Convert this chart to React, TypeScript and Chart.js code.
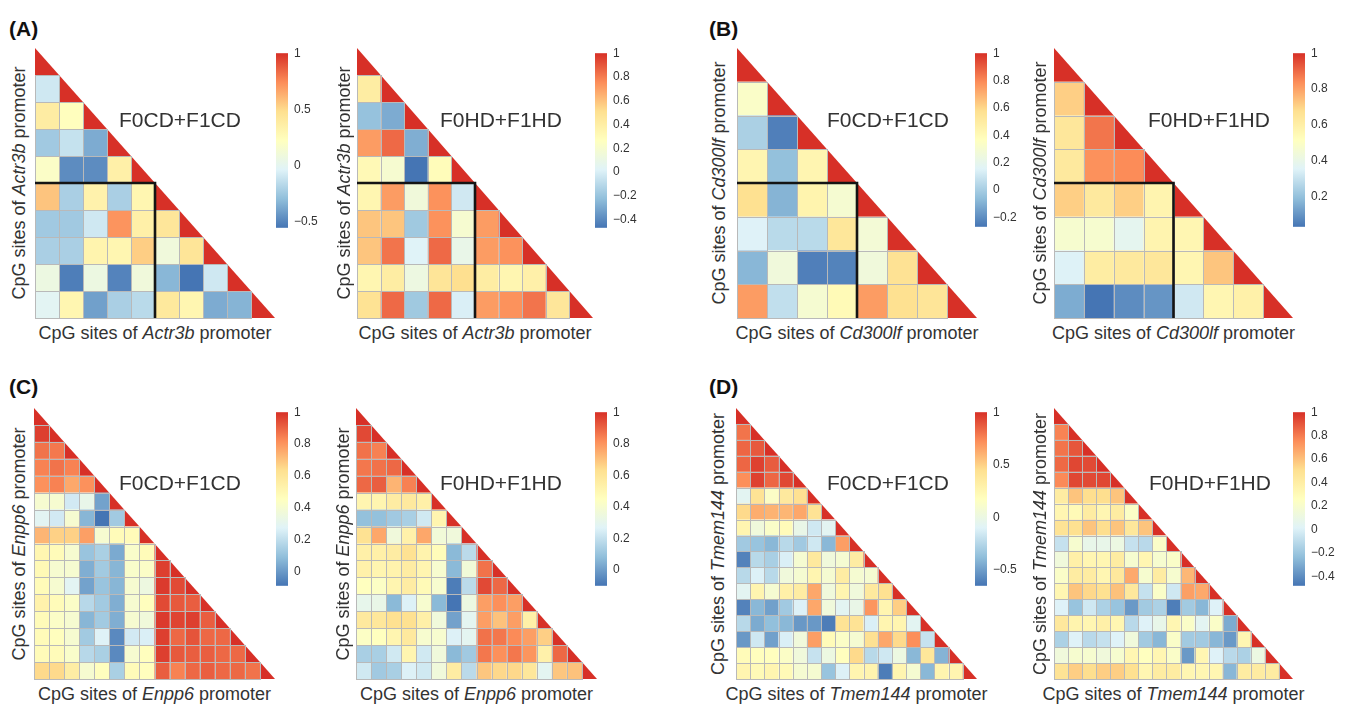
import React, { useEffect, useRef } from "react";
import { Chart, registerables } from "chart.js";
Chart.register(...registerables);

// RdYlBu (7) reversed – pheatmap default palette
const PALETTE = ["#4575B4", "#91BFDB", "#E0F3F8", "#FFFFBF", "#FEE090", "#FC8D59", "#D73027"];

// Lower-triangle correlation values, row k holds columns 0..k-1 (diagonal = 1)
const actr3bCD = [
  [-0.09],
  [0.38, 0.23],
  [-0.24, -0.12, -0.36],
  [0.19, -0.47, -0.47, 0.35],
  [0.57, -0.21, 0.33, -0.21, 0.30],
  [-0.24, -0.24, -0.09, 0.72, 0.35, 0.43],
  [-0.21, -0.21, 0.32, 0.30, 0.54, 0.10, 0.44],
  [0.07, -0.52, 0.07, -0.50, 0.10, -0.32, -0.55, -0.09],
  [-0.01, 0.30, -0.40, -0.21, -0.16, 0.41, 0.30, -0.36, -0.33],
];
const actr3bHD = [
  [0.41],
  [-0.21, -0.29],
  [0.71, 0.85, -0.28],
  [0.31, 0.19, -0.47, 0.29],
  [0.34, 0.71, 0.15, 0.74, -0.03],
  [0.59, 0.59, -0.18, 0.74, 0.19, 0.71],
  [0.59, 0.82, 0.02, 0.85, 0.09, 0.71, 0.74],
  [0.34, 0.41, 0.12, 0.47, 0.51, 0.41, 0.34, 0.38],
  [0.49, 0.85, -0.18, 0.85, 0.0, 0.71, 0.74, 0.82, 0.46],
];
const cd300lfCD = [
  [0.33],
  [0.01, -0.24],
  [0.43, -0.05, 0.43],
  [0.57, -0.09, 0.44, 0.30],
  [0.15, 0.05, 0.05, 0.53, 0.28],
  [-0.08, 0.26, -0.24, -0.23, 0.26, 0.56],
  [0.75, 0.07, 0.30, 0.40, 0.75, 0.57, 0.54],
];
const cd300lfHD = [
  [0.71],
  [0.64, 0.88],
  [0.63, 0.83, 0.84],
  [0.71, 0.63, 0.71, 0.57],
  [0.47, 0.47, 0.38, 0.57, 0.56],
  [0.35, 0.61, 0.63, 0.64, 0.56, 0.73],
  [0.15, 0.03, 0.08, 0.10, 0.32, 0.56, 0.59],
];
const enpp6CD = [
  [0.97],
  [0.87, 0.86],
  [0.84, 0.87, 0.84],
  [0.81, 0.84, 0.76, 0.81],
  [0.40, 0.40, 0.24, 0.32, 0.02],
  [0.29, 0.24, 0.40, 0.07, -0.09, 0.13],
  [0.73, 0.67, 0.67, 0.78, 0.40, 0.48, 0.48],
  [0.51, 0.48, 0.40, 0.11, 0.15, 0.04, 0.42, 0.48],
  [0.49, 0.40, 0.40, 0.05, 0.13, 0.07, 0.42, 0.43, 0.97],
  [0.48, 0.40, 0.29, 0.02, 0.11, 0.07, 0.40, 0.35, 0.98, 0.95],
  [0.53, 0.48, 0.43, 0.18, 0.13, 0.05, 0.40, 0.46, 0.95, 0.92, 0.91],
  [0.48, 0.43, 0.40, 0.07, 0.13, 0.05, 0.40, 0.37, 0.98, 0.96, 0.97, 0.91],
  [0.48, 0.46, 0.40, 0.13, 0.27, -0.04, 0.24, 0.26, 0.97, 0.89, 0.93, 0.89, 0.89],
  [0.48, 0.48, 0.42, 0.18, 0.15, -0.04, 0.40, 0.46, 0.97, 0.92, 0.91, 0.91, 0.89, 0.89],
  [0.65, 0.65, 0.56, 0.40, 0.46, 0.15, 0.48, 0.46, 0.91, 0.84, 0.89, 0.91, 0.89, 0.89, 0.87],
];
const enpp6HD = [
  [0.95],
  [0.87, 0.84],
  [0.86, 0.87, 0.89],
  [0.89, 0.91, 0.73, 0.84],
  [0.51, 0.51, 0.56, 0.58, 0.54],
  [0.09, 0.09, 0.12, 0.14, 0.23, 0.51],
  [0.62, 0.76, 0.36, 0.53, 0.76, 0.37, 0.36],
  [0.54, 0.54, 0.56, 0.62, 0.52, 0.47, 0.07, 0.18],
  [0.53, 0.51, 0.52, 0.56, 0.51, 0.40, 0.07, 0.37, 0.87],
  [0.45, 0.43, 0.51, 0.56, 0.48, 0.40, -0.08, 0.18, 0.95, 0.89],
  [0.31, 0.32, 0.07, 0.26, 0.40, 0.07, -0.10, 0.34, 0.78, 0.81, 0.78],
  [0.58, 0.59, 0.63, 0.63, 0.54, 0.36, 0.01, 0.29, 0.78, 0.70, 0.78, 0.54],
  [0.43, 0.45, 0.51, 0.58, 0.40, 0.40, 0.26, 0.29, 0.87, 0.86, 0.82, 0.78, 0.67],
  [0.14, 0.14, 0.23, 0.51, 0.23, 0.36, 0.07, 0.12, 0.86, 0.81, 0.86, 0.80, 0.53, 0.89],
  [0.23, 0.12, 0.14, 0.26, 0.23, 0.36, 0.56, 0.18, 0.69, 0.65, 0.65, 0.59, 0.29, 0.69, 0.70],
];
const tmem144CD = [
  [0.80],
  [0.84, 0.88],
  [0.84, 0.95, 0.87],
  [0.72, 0.95, 0.84, 0.93],
  [-0.07, 0.42, 0.14, 0.37, 0.44],
  [0.47, 0.62, 0.60, 0.59, 0.64, 0.42],
  [0.26, 0.04, 0.13, 0.21, -0.02, -0.16, -0.07],
  [-0.32, -0.35, -0.40, -0.24, -0.32, -0.16, -0.40, 0.67],
  [-0.60, -0.24, -0.29, -0.12, 0.09, 0.37, 0.04, 0.09, 0.34],
  [-0.24, -0.11, -0.24, 0.04, 0.09, 0.26, 0.09, 0.34, 0.09, 0.09],
  [-0.07, 0.26, 0.09, 0.31, 0.34, 0.64, 0.04, 0.26, 0.04, 0.37, 0.44],
  [-0.60, -0.40, -0.49, -0.32, -0.11, 0.64, 0.04, -0.07, -0.02, 0.70, 0.26, 0.51],
  [-0.24, -0.45, -0.37, -0.40, -0.52, -0.52, -0.62, 0.42, 0.42, -0.12, 0.26, 0.26, -0.07],
  [-0.52, -0.16, -0.49, -0.12, 0.04, 0.67, 0.21, 0.14, 0.09, 0.44, 0.64, 0.47, 0.72, -0.19],
  [0.21, 0.18, 0.18, 0.14, 0.04, -0.19, 0.01, 0.18, 0.47, -0.24, -0.16, 0.01, -0.40, 0.39, -0.42],
  [0.26, 0.22, 0.26, 0.22, 0.09, 0.09, -0.35, -0.11, 0.26, 0.27, -0.62, 0.26, 0.09, -0.40, 0.27, 0.26],
];
const tmem144HD = [
  [0.78],
  [0.82, 0.90],
  [0.85, 0.94, 0.93],
  [0.76, 0.94, 0.93, 0.94],
  [0.41, 0.59, 0.51, 0.51, 0.59],
  [0.33, 0.30, 0.41, 0.33, 0.41, 0.23],
  [0.48, 0.50, 0.59, 0.51, 0.59, 0.45, 0.59],
  [-0.07, 0.19, 0.08, 0.08, 0.11, -0.07, -0.11, 0.22],
  [0.14, 0.38, 0.33, 0.33, 0.41, 0.19, 0.33, 0.19, 0.22],
  [0.22, 0.41, 0.41, 0.33, 0.44, 0.67, 0.19, 0.41, 0.19, 0.63],
  [0.33, 0.59, 0.53, 0.50, 0.60, 0.44, -0.07, 0.22, -0.04, 0.70, 0.67],
  [0.01, -0.21, -0.04, -0.15, -0.21, -0.36, -0.18, -0.15, -0.45, -0.18, -0.26, 0.01],
  [0.44, 0.35, 0.33, 0.38, 0.33, -0.11, 0.01, 0.08, 0.33, 0.22, 0.04, 0.22, -0.30],
  [-0.15, 0.01, -0.11, -0.07, 0.01, 0.14, -0.18, -0.26, 0.22, -0.18, -0.18, -0.26, -0.36, 0.33],
  [0.14, 0.19, 0.19, 0.14, 0.19, 0.33, 0.26, 0.33, 0.22, -0.36, 0.33, 0.01, -0.11, -0.15, 0.11],
  [0.48, 0.56, 0.51, 0.56, 0.56, 0.50, 0.33, 0.41, 0.41, 0.33, 0.33, 0.33, -0.26, 0.41, 0.41, 0.41],
];

// Colour-scale ranges (min of each colour bar, max is 1) and tick steps
const scaleMins = { A1: -0.55, A2: -0.47, B1: -0.27, B2: 0.03, C1: -0.09, C2: -0.1, D1: -0.65, D2: -0.48 };
const tickSteps = { A1: 0.5, A2: 0.2, B1: 0.2, B2: 0.2, C1: 0.2, C2: 0.2, D1: 0.5, D2: 0.2 };
const groupLabels = ["F0CD+F1CD", "F0HD+F1HD"];
const genes = ["Actr3b", "Cd300lf", "Enpp6", "Tmem144"];
const panelLetters = ["(A)", "(B)", "(C)", "(D)"];

const FONT = "'Liberation Sans', Arial, Helvetica, sans-serif";
const TEXT = "#333333";
const PAD = 3;

type Panel = {
  key: string; data: number[][]; gene: string; group: string; box: number;
  left: number; top: number; w: number; h: number;
  cbLeft: number; cbTop: number; cbH: number; ylabX: number; tagX: number; tagY: number;
};

const PANELS: Panel[] = [
  { key: "A1", data: actr3bCD, gene: genes[0], group: groupLabels[0], box: 5, left: 35, top: 48, w: 240, h: 270, cbLeft: 276, cbTop: 50, cbH: 181, ylabX: 19, tagX: 119, tagY: 119 },
  { key: "A2", data: actr3bHD, gene: genes[0], group: groupLabels[1], box: 5, left: 357, top: 48, w: 236, h: 270, cbLeft: 595, cbTop: 50, cbH: 181, ylabX: 344, tagX: 440, tagY: 119 },
  { key: "B1", data: cd300lfCD, gene: genes[1], group: groupLabels[0], box: 4, left: 737, top: 48, w: 240, h: 270, cbLeft: 975, cbTop: 50, cbH: 180, ylabX: 719, tagX: 827, tagY: 119 },
  { key: "B2", data: cd300lfHD, gene: genes[1], group: groupLabels[1], box: 4, left: 1054, top: 48, w: 239, h: 270, cbLeft: 1293, cbTop: 50, cbH: 180, ylabX: 1040, tagX: 1148, tagY: 119 },
  { key: "C1", data: enpp6CD, gene: genes[2], group: groupLabels[0], box: 0, left: 34, top: 408, w: 241, h: 271, cbLeft: 276, cbTop: 409, cbH: 180, ylabX: 19, tagX: 119, tagY: 482 },
  { key: "C2", data: enpp6HD, gene: genes[2], group: groupLabels[1], box: 0, left: 356, top: 408, w: 241, h: 271, cbLeft: 595, cbTop: 409, cbH: 180, ylabX: 343, tagX: 440, tagY: 482 },
  { key: "D1", data: tmem144CD, gene: genes[3], group: groupLabels[0], box: 0, left: 736, top: 408, w: 241, h: 271, cbLeft: 975, cbTop: 409, cbH: 180, ylabX: 718, tagX: 827, tagY: 482 },
  { key: "D2", data: tmem144HD, gene: genes[3], group: groupLabels[1], box: 0, left: 1054, top: 408, w: 239, h: 271, cbLeft: 1293, cbTop: 409, cbH: 180, ylabX: 1040, tagX: 1149, tagY: 482 },
];

function hexToRgb(h: string) {
  const n = parseInt(h.slice(1), 16);
  return [(n >> 16) & 255, (n >> 8) & 255, n & 255];
}
function colorAt(t: number) {
  const tt = Math.max(0, Math.min(1, t));
  const seg = tt * (PALETTE.length - 1);
  const i = Math.min(Math.floor(seg), PALETTE.length - 2);
  const f = seg - i;
  const a = hexToRgb(PALETTE[i]);
  const b = hexToRgb(PALETTE[i + 1]);
  const c = a.map((v, k) => Math.round(v + (b[k] - v) * f));
  return `rgb(${c[0]},${c[1]},${c[2]})`;
}

const triPlugin = {
  id: "triHeat",
  afterDatasetsDraw(chart: any) {
    const ds = chart.data.datasets[0];
    const xs = chart.scales.x;
    const ys = chart.scales.y;
    const ctx = chart.ctx as CanvasRenderingContext2D;
    const vmin = ds.vmin, vmax = ds.vmax, n = ds.n, box = ds.box;
    ctx.save();
    const squares: any[] = [];
    for (const p of ds.data) {
      const x0 = xs.getPixelForValue(p.x), x1 = xs.getPixelForValue(p.x + 1);
      const y0 = ys.getPixelForValue(p.y), y1 = ys.getPixelForValue(p.y + 1);
      ctx.fillStyle = colorAt((p.v - vmin) / (vmax - vmin));
      if (p.x === p.y) {
        ctx.beginPath();
        ctx.moveTo(x0, y0);
        ctx.lineTo(x0, y1);
        ctx.lineTo(x1, y1);
        ctx.closePath();
        ctx.fill();
      } else {
        ctx.fillRect(x0, y0, x1 - x0, y1 - y0);
        squares.push([x0, y0, x1, y1]);
      }
    }
    ctx.strokeStyle = "#b9b9b9";
    ctx.lineWidth = 1;
    for (const [x0, y0, x1, y1] of squares) {
      ctx.strokeRect(Math.round(x0) + 0.5, Math.round(y0) + 0.5, Math.round(x1) - Math.round(x0), Math.round(y1) - Math.round(y0));
    }
    if (box > 0) {
      ctx.strokeStyle = "#141414";
      ctx.lineWidth = 2.6;
      ctx.beginPath();
      ctx.moveTo(xs.getPixelForValue(0), ys.getPixelForValue(box));
      ctx.lineTo(xs.getPixelForValue(box), ys.getPixelForValue(box));
      ctx.lineTo(xs.getPixelForValue(box), ys.getPixelForValue(n));
      ctx.stroke();
    }
    ctx.restore();
  },
};

const barPlugin = {
  id: "colorBar",
  beforeDatasetsDraw(chart: any) {
    const ys = chart.scales.y;
    const ca = chart.chartArea;
    const ctx = chart.ctx as CanvasRenderingContext2D;
    const top = ys.getPixelForValue(ys.max);
    const bot = ys.getPixelForValue(ys.min);
    const g = ctx.createLinearGradient(0, bot, 0, top);
    PALETTE.forEach((c, i) => g.addColorStop(i / (PALETTE.length - 1), c));
    ctx.save();
    ctx.fillStyle = g;
    ctx.fillRect(ca.left, top, ca.right - ca.left, bot - top);
    ctx.restore();
  },
};

function Heatmap({ p }: { p: Panel }) {
  const ref = useRef<HTMLCanvasElement>(null);
  useEffect(() => {
    const n = p.data.length + 1;
    const pts: any[] = [];
    for (let r = 0; r < n; r++) {
      for (let c = 0; c < r; c++) pts.push({ x: c, y: r, v: p.data[r - 1][c] });
      pts.push({ x: r, y: r, v: 1 });
    }
    const chart = new Chart(ref.current as HTMLCanvasElement, {
      type: "scatter",
      data: {
        datasets: [
          { data: pts, pointRadius: 0, pointHoverRadius: 0, vmin: (scaleMins as any)[p.key], vmax: 1, n, box: p.box } as any,
        ],
      },
      options: {
        animation: false,
        responsive: false,
        devicePixelRatio: 1,
        events: [],
        layout: { padding: PAD },
        plugins: { legend: { display: false }, tooltip: { enabled: false } },
        scales: {
          x: { type: "linear", min: 0, max: n, display: false },
          y: { type: "linear", min: 0, max: n, reverse: true, display: false },
        },
      },
      plugins: [triPlugin],
    });
    return () => chart.destroy();
  }, []);
  return (
    <canvas
      ref={ref}
      width={p.w + 2 * PAD}
      height={p.h + 2 * PAD}
      style={{ position: "absolute", left: p.left - PAD, top: p.top - PAD }}
    />
  );
}

function ColorBar({ p }: { p: Panel }) {
  const ref = useRef<HTMLCanvasElement>(null);
  const padV = 10;
  useEffect(() => {
    const chart = new Chart(ref.current as HTMLCanvasElement, {
      type: "scatter",
      data: { datasets: [] },
      options: {
        animation: false,
        responsive: false,
        devicePixelRatio: 1,
        events: [],
        layout: { padding: { top: padV, bottom: padV, left: 0, right: 0 } },
        plugins: { legend: { display: false }, tooltip: { enabled: false } },
        scales: {
          x: { type: "linear", min: 0, max: 1, display: false },
          y: {
            type: "linear",
            position: "right",
            min: (scaleMins as any)[p.key],
            max: 1,
            grid: { display: false, drawTicks: false },
            border: { display: false },
            ticks: {
              stepSize: (tickSteps as any)[p.key],
              includeBounds: false,
              padding: 6,
              color: TEXT,
              font: { family: FONT, size: 12 },
              callback: (v: any) => String(Math.round(Number(v) * 100) / 100).replace("-", "\u2212"),
            },
            afterFit: (s: any) => {
              s.width = 40;
            },
          } as any,
        },
      },
      plugins: [barPlugin],
    });
    return () => chart.destroy();
  }, []);
  return (
    <canvas
      ref={ref}
      width={52}
      height={p.cbH + 2 * padV}
      style={{ position: "absolute", left: p.cbLeft, top: p.cbTop - padV }}
    />
  );
}

function Labels({ p }: { p: Panel }) {
  const base: React.CSSProperties = { position: "absolute", whiteSpace: "nowrap", color: TEXT, lineHeight: 1, fontFamily: FONT };
  return (
    <>
      <div style={{ ...base, left: p.left + p.w / 2, top: p.top + p.h + 15, transform: "translate(-50%,-50%)", fontSize: 18 }}>
        CpG sites of <i>{p.gene}</i> promoter
      </div>
      <div style={{ ...base, left: p.ylabX, top: p.top + p.h / 2, transform: "translate(-50%,-50%) rotate(-90deg)", fontSize: 18 }}>
        CpG sites of <i>{p.gene}</i> promoter
      </div>
      <div style={{ ...base, left: p.tagX, top: p.tagY, transform: "translateY(-50%)", fontSize: 21 }}>{p.group}</div>
    </>
  );
}

export default function App() {
  const letterPos = [
    [9, 28],
    [709, 28],
    [9, 386],
    [709, 386],
  ];
  return (
    <div style={{ position: "absolute", left: 0, top: 0, width: 1349, height: 704, background: "#fff", fontFamily: FONT, overflow: "hidden" }}>
      {panelLetters.map((t, i) => (
        <div key={t} style={{ position: "absolute", left: letterPos[i][0], top: letterPos[i][1], transform: "translateY(-50%)", fontSize: 21, fontWeight: "bold", color: "#111", lineHeight: 1, fontFamily: FONT }}>
          {t}
        </div>
      ))}
      {PANELS.map((p) => (
        <React.Fragment key={p.key}>
          <Heatmap p={p} />
          <ColorBar p={p} />
          <Labels p={p} />
        </React.Fragment>
      ))}
    </div>
  );
}
